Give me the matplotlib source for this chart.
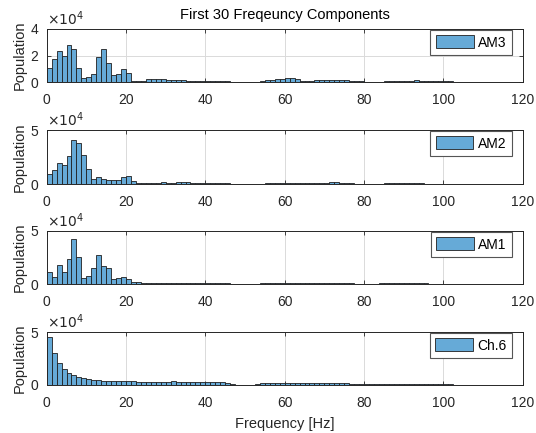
import numpy as np
import matplotlib
matplotlib.use("Agg")
import matplotlib.pyplot as plt

plt.rcParams['font.family'] = ['Liberation Sans', 'DejaVu Sans']

# Histogram bin width [Hz]; counts are in units of 1e4
bin_width = 1.25

am3 = [1.08, 1.72, 2.32, 2.0, 2.78, 2.5, 1.08, 0.33, 0.4, 0.58, 1.88, 2.52, 1.4, 0.5, 0.6, 0.95, 0.65,
       0.08, 0.08, 0.1, 0.2, 0.22, 0.25, 0.22, 0.18, 0.15, 0.15, 0.12, 0.08, 0.08, 0.07, 0.07, 0.06,
       0.06, 0.05, 0.05, 0.04, 0.03, 0.02, 0.02, 0.02, 0.02, 0.03, 0.05, 0.15, 0.18, 0.22, 0.25, 0.3,
       0.27, 0.2, 0.08, 0.07, 0.1, 0.13, 0.15, 0.15, 0.15, 0.16, 0.15, 0.12, 0.1, 0.07, 0.05, 0.03,
       0.02, 0.02, 0.03, 0.05, 0.07, 0.08, 0.08, 0.1, 0.1, 0.12, 0.1, 0.1, 0.1, 0.08, 0.08, 0.06,
       0.05, 0.03]

am2 = [0.93, 1.27, 1.93, 1.8, 2.58, 4.04, 3.82, 2.67, 1.4, 0.47, 0.62, 0.5, 0.37, 0.37, 0.37, 0.68, 0.78,
       0.25, 0.08, 0.08, 0.08, 0.1, 0.1, 0.18, 0.12, 0.1, 0.15, 0.15, 0.15, 0.12, 0.1, 0.08, 0.08,
       0.1, 0.08, 0.06, 0.05, 0.03, 0.02, 0.02, 0.02, 0.02, 0.03, 0.04, 0.06, 0.08, 0.1, 0.12, 0.1,
       0.08, 0.07, 0.06, 0.08, 0.1, 0.12, 0.12, 0.13, 0.15, 0.15, 0.12, 0.08, 0.05, 0.04, 0.03, 0.02,
       0.02, 0.03, 0.04, 0.05, 0.06, 0.07, 0.08, 0.08, 0.07, 0.06, 0.05, 0.04, 0.03, 0.03, 0.02, 0.02,
       0.02, 0.01]

am1 = [1.13, 0.63, 1.82, 1.13, 2.39, 4.21, 2.52, 0.53, 0.72, 1.51, 2.77, 1.7, 1.48, 0.47, 0.57, 0.69, 0.44,
       0.19, 0.16, 0.12, 0.1, 0.1, 0.12, 0.14, 0.1, 0.08, 0.08, 0.08, 0.08, 0.1, 0.1, 0.1, 0.1,
       0.08, 0.08, 0.07, 0.06, 0.04, 0.02, 0.02, 0.02, 0.02, 0.03, 0.06, 0.1, 0.12, 0.1, 0.1, 0.12,
       0.1, 0.08, 0.06, 0.05, 0.08, 0.1, 0.1, 0.1, 0.12, 0.12, 0.1, 0.08, 0.05, 0.04, 0.03, 0.02,
       0.03, 0.04, 0.05, 0.05, 0.06, 0.07, 0.06, 0.05, 0.06, 0.07, 0.06, 0.05, 0.04, 0.03, 0.03, 0.03,
       0.02, 0.01]

ch6 = [4.53, 3.05, 2.11, 1.48, 1.1, 0.91, 0.72, 0.63, 0.53, 0.5, 0.44, 0.41, 0.4, 0.35, 0.38, 0.38, 0.35,
       0.35, 0.33, 0.33, 0.32, 0.3, 0.3, 0.3, 0.33, 0.35, 0.3, 0.28, 0.28, 0.27, 0.27, 0.26, 0.25,
       0.25, 0.24, 0.24, 0.22, 0.05, 0.02, 0.01, 0.01, 0.02, 0.12, 0.16, 0.18, 0.18, 0.18, 0.18, 0.18,
       0.18, 0.18, 0.18, 0.18, 0.17, 0.17, 0.17, 0.17, 0.16, 0.16, 0.15, 0.15, 0.14, 0.14, 0.14, 0.13,
       0.13, 0.12, 0.12, 0.12, 0.12, 0.11, 0.11, 0.12, 0.11, 0.1, 0.1, 0.09, 0.08, 0.08, 0.07, 0.06,
       0.05, 0.03]

series = [("AM3", am3, 4), ("AM2", am2, 5), ("AM1", am1, 5), ("Ch.6", ch6, 5)]
x_ticks = [0, 20, 40, 60, 80, 100, 120]

face = (0.4, 0.668, 0.845)
edge = '#1f1f1f'
axis_col = '#262626'

W, H = 536, 433
fig = plt.figure(figsize=(W / 100, H / 100), dpi=100)

# axes boxes in pixels: (top, bottom)
rows = [(29, 82), (130, 184), (231, 284), (332, 385)]
left_px, right_px = 46.7, 522.7

for (name, vals, ymax), (top, bot) in zip(series, rows):
    ax = fig.add_axes([left_px / W, 1 - bot / H, (right_px - left_px) / W, (bot - top) / H])
    counts = np.asarray(vals) * 1e4
    edges = np.arange(len(counts) + 1) * bin_width
    ax.bar(edges[:-1], counts, width=bin_width, align='edge', color=face,
           edgecolor=edge, linewidth=0.6, label=name, zorder=2)
    ax.set_xlim(0, 120)
    ax.set_ylim(0, ymax * 1e4)
    ax.set_xticks(x_ticks)
    yt = [0, ymax // 2 * 1e4, ymax * 1e4] if ymax == 4 else [0, 5e4]
    ax.set_yticks(yt)
    ax.set_yticklabels([f"{int(v / 1e4)}" for v in yt])
    ax.grid(True, color='#dadada', linewidth=0.7, zorder=0)
    ax.set_axisbelow(True)
    ax.tick_params(direction='in', length=3, width=0.6, top=True, right=True,
                   labelsize=10, colors=axis_col)
    ax.tick_params(axis='x', pad=8)
    ax.tick_params(axis='y', pad=6)
    for s in ax.spines.values():
        s.set_color(axis_col)
        s.set_linewidth(0.7)
    ax.set_ylabel("Population", fontsize=10.5, color=axis_col, labelpad=3)
    ax.text(0.0, 1.01, r"$\times10^{4}$", transform=ax.transAxes, ha='left', va='bottom',
            fontsize=10, color=axis_col)
    leg = ax.legend(loc='upper right', bbox_to_anchor=(0.977, 0.985), fontsize=10,
                    handlelength=2.7, handleheight=1.05, handletextpad=0.3, borderpad=0.4,
                    borderaxespad=0.0, fancybox=False, framealpha=1)
    leg.get_frame().set_edgecolor('#555555')
    leg.get_frame().set_linewidth(0.8)
    if name == "AM3":
        ax.set_title("First 30 Freqeuncy Components", fontsize=10.5, color='black', pad=7)
    if name == "Ch.6":
        ax.set_xlabel("Frequency [Hz]", fontsize=10.5, color=axis_col, labelpad=5)

fig.savefig("out.png", dpi=100)
